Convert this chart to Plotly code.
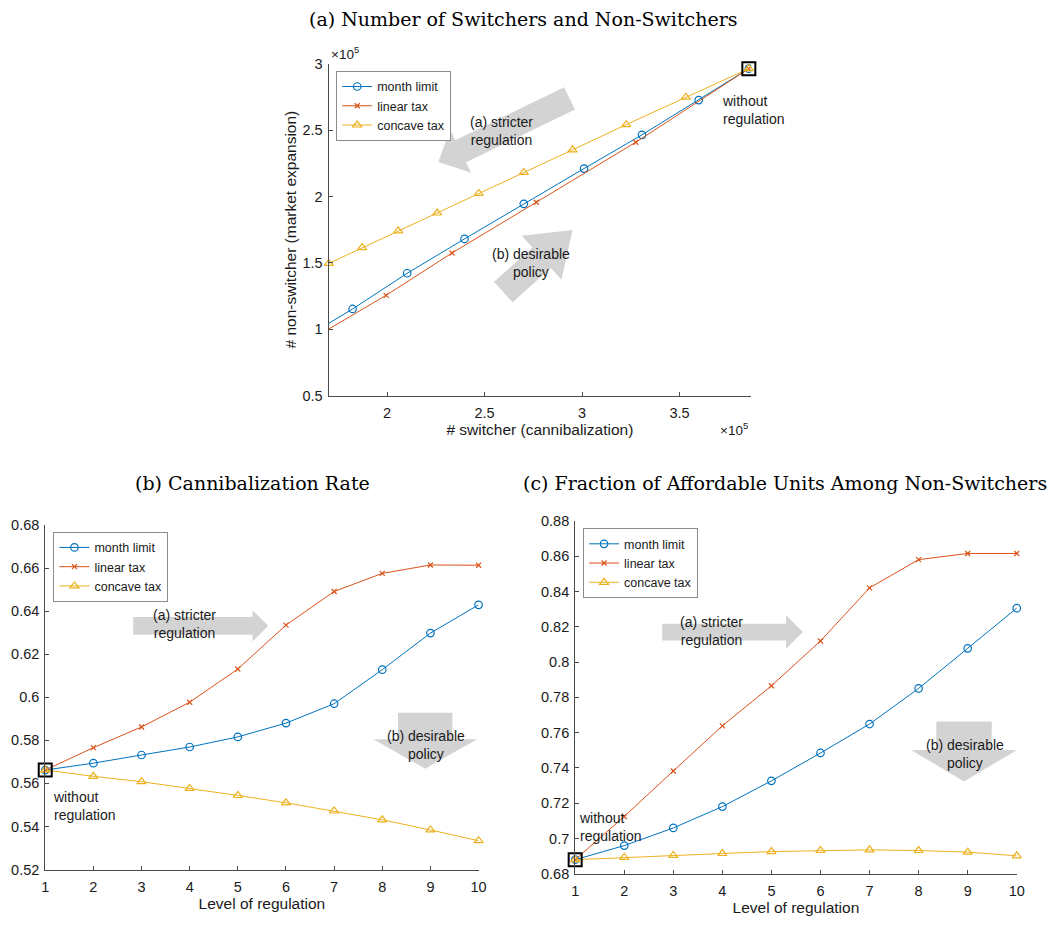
import plotly.graph_objects as go

W, H = 1063, 928

levels = [1, 2, 3, 4, 5, 6, 7, 8, 9, 10]
series_names = ["month limit", "linear tax", "concave tax"]

# Panel (a): switchers vs non-switchers
switch_month = [385500, 359800, 330700, 301000, 270100, 239700, 210300, 182300, 155700, 132000]
nonsw_month = [296300, 272600, 246400, 221000, 194400, 168000, 142100, 115200, 91600, 73400]
switch_linear = [385500, 327500, 276500, 233300, 199500, 167400, 145000, 130000, 122000, 120000]
nonsw_linear = [296300, 240800, 195600, 157400, 125500, 97100, 78400, 67700, 62600, 61600]
switch_concave = [385500, 353200, 322600, 295100, 270100, 247000, 225700, 205700, 187200, 170100]
nonsw_concave = [296300, 274800, 254100, 235100, 218100, 202300, 187500, 174100, 161500, 149500]

# Panel (b): cannibalization rate
cann_month = [0.5662, 0.5694, 0.5732, 0.5769, 0.5816, 0.5880, 0.5970, 0.6128, 0.6298, 0.6429]
cann_linear = [0.5662, 0.5766, 0.5862, 0.5977, 0.6131, 0.6335, 0.6491, 0.6575, 0.6614, 0.6613]
cann_concave = [0.5662, 0.5633, 0.5608, 0.5577, 0.5544, 0.5510, 0.5472, 0.5431, 0.5384, 0.5334]

# Panel (c): fraction of affordable units among non-switchers
aff_month = [0.6880, 0.6960, 0.7060, 0.7181, 0.7327, 0.7485, 0.7649, 0.7851, 0.8078, 0.8306]
aff_linear = [0.6880, 0.7125, 0.7383, 0.7639, 0.7866, 0.8120, 0.8421, 0.8581, 0.8616, 0.8616]
aff_concave = [0.6880, 0.6893, 0.6904, 0.6915, 0.6926, 0.6932, 0.6936, 0.6932, 0.6923, 0.6902]

top_xticks = [200000, 250000, 300000, 350000]
top_xticklabels = ["2", "2.5", "3", "3.5"]
top_yticks = [50000, 100000, 150000, 200000, 250000, 300000]
top_yticklabels = ["0.5", "1", "1.5", "2", "2.5", "3"]

colors = ["#0072BD", "#D95319", "#EDB120"]
symbols = ["circle-open", "x-thin-open", "triangle-up-open"]
msizes = [7.5, 5, 8]

SANS = "Liberation Sans, Arial, Helvetica, sans-serif"
SERIF = "DejaVu Serif, serif"
AXC = "#4a4a4a"
TXT = "#1a1a1a"


def px(x):
    return x / W


def py(y):
    return 1 - y / H


fig = go.Figure()

panels = [
    ("x", "y", "legend", [switch_month, switch_linear, switch_concave],
     [nonsw_month, nonsw_linear, nonsw_concave]),
    ("x2", "y2", "legend2", [levels] * 3, [cann_month, cann_linear, cann_concave]),
    ("x3", "y3", "legend3", [levels] * 3, [aff_month, aff_linear, aff_concave]),
]

for xa, ya, lg, xs, ys in panels:
    for i in range(3):
        clip = True if (xa == "x" and i < 2) else False
        fig.add_trace(go.Scatter(
            x=xs[i], y=ys[i], mode="lines+markers", name=series_names[i],
            xaxis=xa, yaxis=ya, legend=lg, cliponaxis=clip,
            line=dict(color=colors[i], width=1),
            marker=dict(symbol=symbols[i], size=msizes[i], color=colors[i],
                        line=dict(color=colors[i], width=1.2)),
        ))
    # "without regulation" point (level 1)
    fig.add_trace(go.Scatter(
        x=[xs[0][0]], y=[ys[0][0]], mode="markers", showlegend=False,
        xaxis=xa, yaxis=ya, cliponaxis=False,
        marker=dict(symbol="square-open", size=13, color="black",
                    line=dict(color="black", width=2)),
    ))

axis_common = dict(showline=True, linecolor=AXC, linewidth=1, mirror=False,
                   ticks="inside", ticklen=4, tickcolor=AXC, showgrid=False,
                   zeroline=False, tickfont=dict(family=SANS, size=14.5, color=TXT))
xaxis_common = dict(ticklabelstandoff=4, **axis_common)
yaxis_common = dict(ticklabelstandoff=2, **axis_common)

title_font = dict(family=SANS, size=15.5, color=TXT)

legend_common = dict(xanchor="left", yanchor="top", bgcolor="white",
                     bordercolor="#8c8c8c", borderwidth=1,
                     font=dict(family=SANS, size=12.5, color=TXT),
                     itemwidth=30, tracegroupgap=0)

fig.update_layout(
    width=W, height=H, margin=dict(l=0, r=0, t=0, b=0),
    paper_bgcolor="white", plot_bgcolor="rgba(0,0,0,0)",
    showlegend=True,
    xaxis=dict(domain=[px(328.3), px(755.7)], range=[170000, 386700], anchor="y",
               tickvals=top_xticks, ticktext=top_xticklabels,
               title=dict(text="# switcher (cannibalization)", standoff=2, font=title_font),
               **xaxis_common),
    yaxis=dict(domain=[py(394.3), py(56.7)], range=[50000, 300000], anchor="x",
               tickvals=top_yticks, ticktext=top_yticklabels,
               title=dict(text="# non-switcher (market expansion)", standoff=2, font=title_font),
               **yaxis_common),
    xaxis2=dict(domain=[px(41.7), px(480)], range=[1, 10], anchor="y2", dtick=1,
                title=dict(text="Level of regulation", standoff=2, font=title_font),
                **xaxis_common),
    yaxis2=dict(domain=[py(876.7), py(526)], range=[0.52, 0.68], anchor="x2", dtick=0.02,
                **yaxis_common),
    xaxis3=dict(domain=[px(577.7), px(1024.3)], range=[1, 10], anchor="y3", dtick=1,
                title=dict(text="Level of regulation", standoff=2, font=title_font),
                **xaxis_common),
    yaxis3=dict(domain=[py(881), py(522)], range=[0.68, 0.88], anchor="x3", dtick=0.02,
                **yaxis_common),
    legend=dict(x=px(336), y=py(64), **legend_common),
    legend2=dict(x=px(50), y=py(533), **legend_common),
    legend3=dict(x=px(585.7), y=py(529.3), **legend_common),
)


def arrow_path(tail, tip, sw, hw, hl):
    tx, ty = tail
    hx, hy = tip
    dx, dy = hx - tx, hy - ty
    L = (dx ** 2 + dy ** 2) ** 0.5
    ux, uy = dx / L, dy / L
    nx, ny = -uy, ux
    bx, by = hx - ux * hl, hy - uy * hl
    pts = [
        (tx + nx * sw / 2, ty + ny * sw / 2),
        (bx + nx * sw / 2, by + ny * sw / 2),
        (bx + nx * hw / 2, by + ny * hw / 2),
        (hx, hy),
        (bx - nx * hw / 2, by - ny * hw / 2),
        (bx - nx * sw / 2, by - ny * sw / 2),
        (tx - nx * sw / 2, ty - ny * sw / 2),
    ]
    return "M " + " L ".join(f"{px(a):.5f},{py(b):.5f}" for a, b in pts) + " Z"


arrows = [
    ((572, 92), (439.3, 156.7), 25, 49, 25),
    ((505, 289), (575, 226), 28, 60, 42),
    ((130.7, 628.7), (267.3, 628.7), 18, 32, 16),
    ((426, 717), (426, 774), 55, 105, 30),
    ((665.7, 635), (808, 635), 17, 34, 17),
    ((971, 726), (971, 787), 56, 107, 32),
]
for a in arrows:
    fig.add_shape(type="path", path=arrow_path(*a), xref="paper", yref="paper",
                  fillcolor="#d3d3d3", line=dict(width=0), layer="below")

texts = [
    ("(a) stricter<br>regulation", 503, 125, "center"),
    ("(b) desirable<br>policy", 533, 259, "center"),
    ("without<br>regulation", 724.3, 104, "left"),
    ("(a) stricter<br>regulation", 183, 627, "center"),
    ("(b) desirable<br>policy", 427, 750, "center"),
    ("without<br>regulation", 47.7, 812, "left"),
    ("(a) stricter<br>regulation", 716, 634, "center"),
    ("(b) desirable<br>policy", 972, 759.5, "center"),
    ("without<br>regulation", 580, 833, "left"),
]
for t, x, y, al in texts:
    fig.add_annotation(text=t, x=px(x), y=py(y), xref="paper", yref="paper",
                       xanchor=al, yanchor="middle", align=al, showarrow=False,
                       font=dict(family=SANS, size=14, color=TXT))

# exponent labels
fig.add_annotation(text="×10<sup>5</sup>", x=px(329), y=py(46), xref="paper", yref="paper",
                   xanchor="left", yanchor="middle", showarrow=False,
                   font=dict(family=SANS, size=13.5, color=TXT))
fig.add_annotation(text="×10<sup>5</sup>", x=px(722), y=py(428), xref="paper", yref="paper",
                   xanchor="left", yanchor="middle", showarrow=False,
                   font=dict(family=SANS, size=13.5, color=TXT))

# panel titles
titles = [
    ("(a) Number of Switchers and Non-Switchers", 525, 11),
    ("(b) Cannibalization Rate", 251.5, 483),
    ("(c) Fraction of Affordable Units Among Non-Switchers", 790, 483),
]
for t, x, y in titles:
    fig.add_annotation(text=t, x=px(x), y=py(y), xref="paper", yref="paper",
                       xanchor="center", yanchor="middle", showarrow=False,
                       font=dict(family=SERIF, size=19, color="black"))

fig.write_html("out.html")
